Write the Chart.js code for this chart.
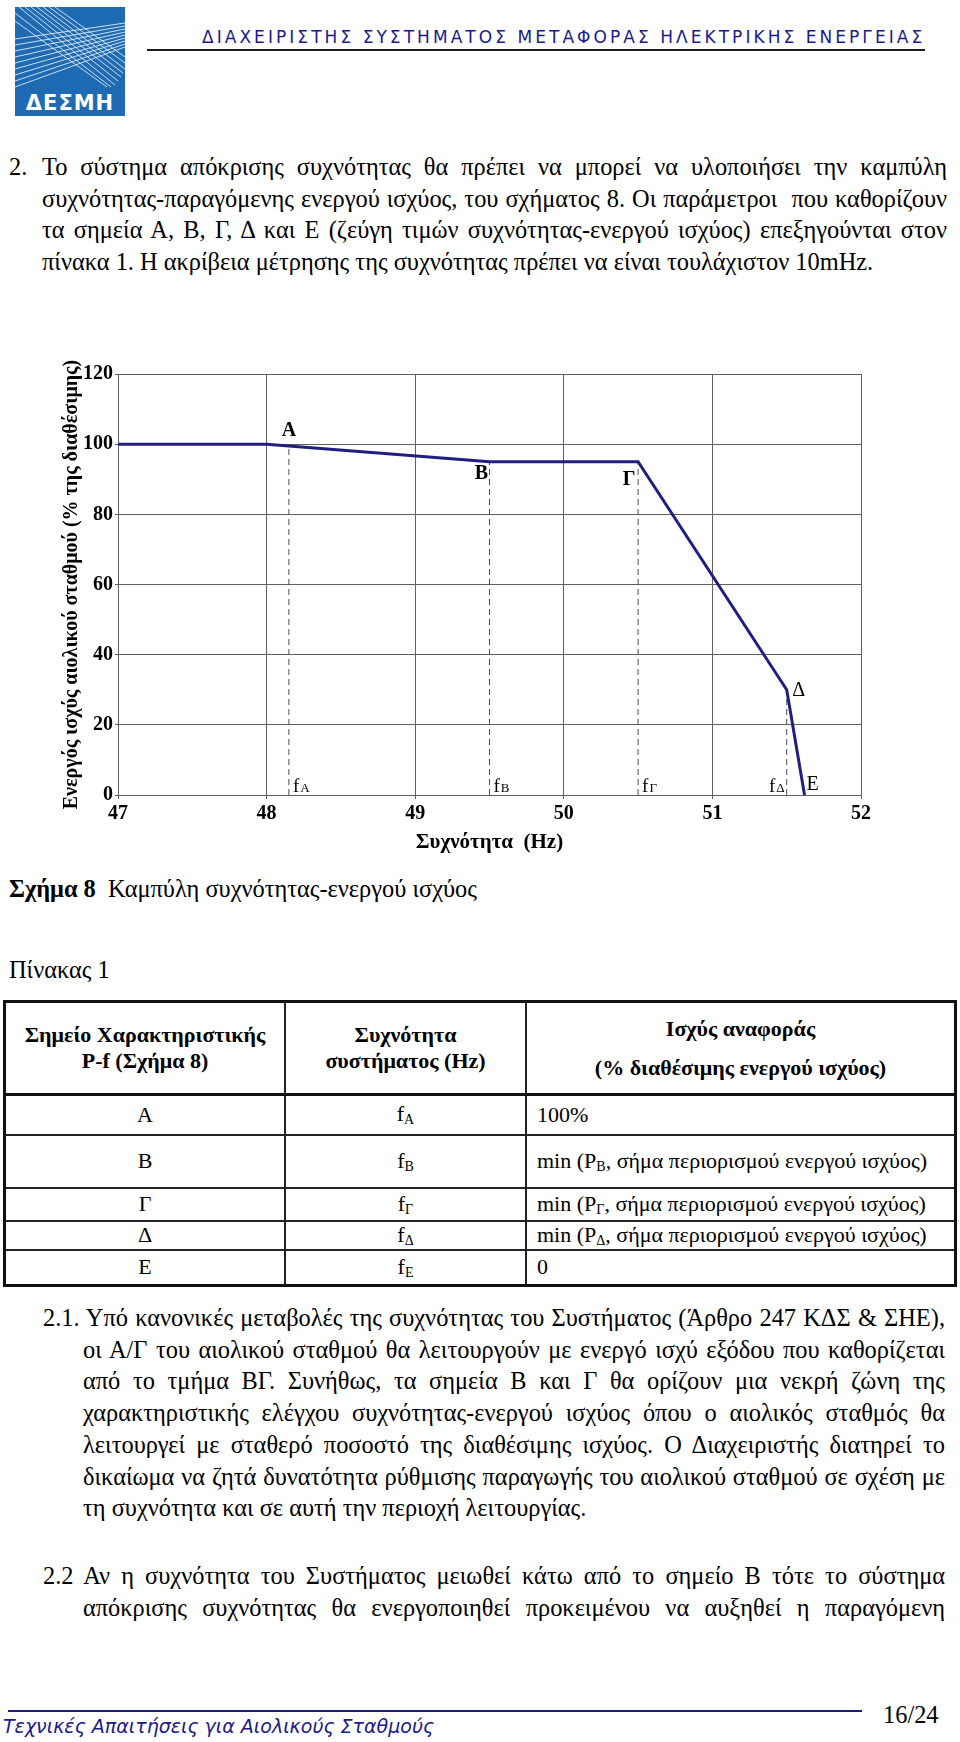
<!DOCTYPE html>
<html lang="el">
<head>
<meta charset="UTF-8">
<title>Καμπύλη συχνότητας-ενεργού ισχύος</title>
<script src="https://cdn.jsdelivr.net/npm/chart.js"></script>
<style>
    html, body {
        margin: 0;
        padding: 0;
        background: #fff;
    }
    body {
        width: 960px;
        height: 1742px;
        position: relative;
        overflow: hidden;
        font-family: "Liberation Serif", "Times New Roman", serif;
        font-size: 24.4px;
        color: #000;
    }
    .abs { position: absolute; }
    .header-title {
        left: 202px;
        top: 27px;
        font-family: "DejaVu Sans", Verdana, sans-serif;
        font-size: 17px;
        line-height: 20px;
        letter-spacing: 3.05px;
        color: #1a1a8c;
        white-space: nowrap;
    }
    .header-rule {
        left: 147px;
        top: 49px;
        width: 778px;
        height: 2px;
        background: #1c1c1c;
    }
    .para { line-height: 31.7px; }
    .para div { white-space: nowrap; }
    .para .j { text-align: justify; text-align-last: justify; }
    #chartCanvas { position: absolute; left: 0; top: 345px; }
    table.points {
        position: absolute;
        left: 3px;
        top: 1000px;
        width: 954px;
        border-collapse: collapse;
        border: 3px solid #111;
        font-size: 22px;
    }
    table.points td, table.points th {
        border: 2px solid #222;
        padding: 0 0 0 10px;
        vertical-align: middle;
        white-space: nowrap;
    }
    table.points th {
        font-weight: bold;
        text-align: center;
        line-height: 26px;
        padding: 0;
        border-bottom: 3px solid #111;
    }
    table.points td.c { text-align: center; padding: 0; }
    table.points sub { font-size: 14px; vertical-align: -3px; }
    .footer-rule {
        left: 8px;
        top: 1710px;
        width: 854px;
        height: 2px;
        background: #1a1a80;
    }
    .footer-text {
        left: 3px;
        top: 1715px;
        font-family: "DejaVu Sans", Verdana, sans-serif;
        font-style: italic;
        font-size: 19px;
        line-height: 22px;
        color: #1a1a8c;
        white-space: nowrap;
    }
</style>
</head>
<body>

<!-- logo -->
<svg class="abs" style="left:15px;top:7px" width="110" height="109" viewBox="0 0 110 109">
    <rect width="110" height="109" fill="#1f6bb3"/>
    <g stroke="#ffffff" stroke-width="0.9" opacity="0.85" fill="none">
        <line x1="4" y1="0" x2="100" y2="78"/>
        <line x1="10" y1="0" x2="103" y2="74"/>
        <line x1="16" y1="0" x2="106" y2="70"/>
        <line x1="22" y1="0" x2="108" y2="66"/>
        <line x1="28" y1="0" x2="110" y2="62"/>
        <line x1="34" y1="0" x2="110" y2="56"/>
        <line x1="40" y1="0" x2="110" y2="50"/>
        <line x1="0" y1="6" x2="96" y2="80"/>
        <line x1="0" y1="14" x2="92" y2="80"/>
        <line x1="0" y1="32" x2="110" y2="16"/>
        <line x1="0" y1="38" x2="110" y2="19"/>
        <line x1="0" y1="44" x2="110" y2="22"/>
        <line x1="0" y1="50" x2="110" y2="25"/>
        <line x1="0" y1="56" x2="110" y2="28"/>
        <line x1="0" y1="62" x2="110" y2="31"/>
        <line x1="0" y1="68" x2="110" y2="34"/>
        <line x1="0" y1="74" x2="110" y2="37"/>
        <line x1="0" y1="80" x2="110" y2="40"/>
    </g>
    <text x="55" y="103" text-anchor="middle" fill="#ffffff"
          font-family="DejaVu Sans, sans-serif" font-weight="bold" font-size="21" letter-spacing="1">ΔΕΣΜΗ</text>
</svg>

<div class="abs header-title">ΔΙΑΧΕΙΡΙΣΤΗΣ ΣΥΣΤΗΜΑΤΟΣ ΜΕΤΑΦΟΡΑΣ ΗΛΕΚΤΡΙΚΗΣ ΕΝΕΡΓΕΙΑΣ</div>
<div class="abs header-rule"></div>

<!-- paragraph 2 -->
<div class="abs para" style="left:9px;top:151px;">2.</div>
<div class="abs para" style="left:42px;top:151px;width:905px;">
    <div class="j">Το σύστημα απόκρισης συχνότητας θα πρέπει να μπορεί να υλοποιήσει την καμπύλη</div>
    <div class="j">συχνότητας-παραγόμενης ενεργού ισχύος, του σχήματος 8. Οι παράμετροι &nbsp;που καθορίζουν</div>
    <div class="j">τα σημεία Α, Β, Γ, Δ και Ε (ζεύγη τιμών συχνότητας-ενεργού ισχύος) επεξηγούνται στον</div>
    <div>πίνακα 1. Η ακρίβεια μέτρησης της συχνότητας πρέπει να είναι τουλάχιστον 10mHz.</div>
</div>

<canvas id="chartCanvas" width="960" height="511"></canvas>

<div class="abs para" style="left:9px;top:873px;"><b>Σχήμα 8</b>&nbsp; Καμπύλη συχνότητας-ενεργού ισχύος</div>
<div class="abs para" style="left:9px;top:954px;">Πίνακας 1</div>

<table class="points">
    <tr style="height:93px">
        <th style="width:278px">Σημείο Χαρακτηριστικής<br>P-f (Σχήμα 8)</th>
        <th style="width:239px">Συχνότητα<br>συστήματος (Hz)</th>
        <th style="line-height:39px">Ισχύς αναφοράς<br>(% διαθέσιμης ενεργού ισχύος)</th>
    </tr>
    <tr style="height:40px"><td class="c">Α</td><td class="c">f<sub>A</sub></td><td>100%</td></tr>
    <tr style="height:53px"><td class="c">Β</td><td class="c">f<sub>B</sub></td><td>min (P<sub>B</sub>, σήμα περιορισμού ενεργού ισχύος)</td></tr>
    <tr style="height:33px"><td class="c">Γ</td><td class="c">f<sub>Γ</sub></td><td>min (P<sub>Γ</sub>, σήμα περιορισμού ενεργού ισχύος)</td></tr>
    <tr style="height:28px"><td class="c">Δ</td><td class="c">f<sub>Δ</sub></td><td>min (P<sub>Δ</sub>, σήμα περιορισμού ενεργού ισχύος)</td></tr>
    <tr style="height:36px"><td class="c">Ε</td><td class="c">f<sub>E</sub></td><td>0</td></tr>
</table>

<!-- paragraph 2.1 -->
<div class="abs para" style="left:43px;top:1302px;width:902px;">
    <div class="j">2.1. Υπό κανονικές μεταβολές της συχνότητας του Συστήματος (Άρθρο 247 ΚΔΣ &amp; ΣΗΕ),</div>
</div>
<div class="abs para" style="left:83px;top:1333.7px;width:862px;">
    <div class="j">οι Α/Γ του αιολικού σταθμού θα λειτουργούν με ενεργό ισχύ εξόδου που καθορίζεται</div>
    <div class="j">από το τμήμα ΒΓ. Συνήθως, τα σημεία Β και Γ θα ορίζουν μια νεκρή ζώνη της</div>
    <div class="j">χαρακτηριστικής ελέγχου συχνότητας-ενεργού ισχύος όπου ο αιολικός σταθμός θα</div>
    <div class="j">λειτουργεί με σταθερό ποσοστό της διαθέσιμης ισχύος. Ο Διαχειριστής διατηρεί το</div>
    <div class="j">δικαίωμα να ζητά δυνατότητα ρύθμισης παραγωγής του αιολικού σταθμού σε σχέση με</div>
    <div>τη συχνότητα και σε αυτή την περιοχή λειτουργίας.</div>
</div>

<!-- paragraph 2.2 -->
<div class="abs para" style="left:43px;top:1560px;width:902px;">
    <div class="j">2.2 Αν η συχνότητα του Συστήματος μειωθεί κάτω από το σημείο Β τότε το σύστημα</div>
</div>
<div class="abs para" style="left:83px;top:1591.7px;width:862px;">
    <div class="j">απόκρισης συχνότητας θα ενεργοποιηθεί προκειμένου να αυξηθεί η παραγόμενη</div>
</div>

<div class="abs footer-rule"></div>
<div class="abs para" style="left:883px;top:1699px;">16/24</div>
<div class="abs footer-text">Τεχνικές Απαιτήσεις για Αιολικούς Σταθμούς</div>

<script>
    // P-f curve (frequency in Hz, power in % of available)
    const curveFreq = [47, 48, 48.15, 49.5, 50.5, 51.5, 51.62];
    const curvePower = [100, 100, 99.5, 95, 95, 30, 0];

    // characteristic points with dashed drop lines
    const markNames = ['A', 'B', 'Γ', 'Δ'];
    const markFreq = [48.15, 49.5, 50.5, 51.5];
    const markPower = [99.5, 95, 95, 30];

    const endName = 'E';
    const endFreq = 51.62;
    const endPower = 0;

    const xTicks = [47, 48, 49, 50, 51, 52];
    const yTicks = [0, 20, 40, 60, 80, 100, 120];

    const gridColor = '#606060';
    const serif = '"Liberation Serif", "Times New Roman", serif';

    // squeeze any justified line that would overflow its box
    document.querySelectorAll('.para .j').forEach(el => {
        let ls = 0;
        while (el.scrollWidth > el.clientWidth && ls > -1) {
            ls -= 0.05;
            el.style.letterSpacing = ls + 'px';
        }
    });

    const curveData = curveFreq.map((f, i) => ({ x: f, y: curvePower[i] }));

    const dropSets = markFreq.map((f, i) => ({
        data: [{ x: f, y: 0 }, { x: f, y: markPower[i] }],
        showLine: true,
        borderColor: '#4a4a60',
        borderWidth: 1,
        borderDash: [6, 4],
        pointRadius: 0,
        order: 2
    }));

    // letter labels next to each point and f-subscript labels on the x axis
    const pointLabels = {
        id: 'pointLabels',
        afterDatasetsDraw(chart) {
            const { ctx, scales: { x, y } } = chart;
            const off = {
                'A': [0, -15, true], 'B': [-8, 12, true], 'Γ': [-9, 18, true],
                'Δ': [12, 1, false], 'E': [8, -10, false]
            };
            ctx.save();
            ctx.fillStyle = '#000';
            ctx.textAlign = 'center';
            ctx.textBaseline = 'middle';
            const names = markNames.concat([endName]);
            const fs = markFreq.concat([endFreq]);
            const ps = markPower.concat([endPower]);
            names.forEach((n, i) => {
                const o = off[n];
                ctx.font = (o[2] ? 'bold ' : '') + '20px ' + serif;
                ctx.fillText(n, x.getPixelForValue(fs[i]) + o[0], y.getPixelForValue(ps[i]) + o[1]);
            });

            // f_A ... f_Δ
            ctx.textBaseline = 'alphabetic';
            ctx.textAlign = 'left';
            const base = y.getPixelForValue(0) - 3;
            markNames.forEach((n, i) => {
                ctx.font = '19px ' + serif;
                const fw = ctx.measureText('f').width;
                ctx.font = '13px ' + serif;
                const sw = ctx.measureText(n).width;
                const px = x.getPixelForValue(markFreq[i]);
                const left = i === markNames.length - 1 ? px - 2 - fw - sw - 1 : px + 4;
                ctx.font = '19px ' + serif;
                ctx.fillText('f', left, base);
                ctx.font = '13px ' + serif;
                ctx.fillText(n, left + fw + 1, base);
            });
            ctx.restore();
        }
    };

    const chart = new Chart(document.getElementById('chartCanvas'), {
        type: 'scatter',
        data: {
            datasets: [{
                data: curveData,
                showLine: true,
                borderColor: '#1f1f80',
                borderWidth: 3,
                pointRadius: 0,
                order: 1
            }].concat(dropSets)
        },
        options: {
            responsive: false,
            animation: false,
            events: [],
            layout: { padding: { left: 60, right: 99, top: 29, bottom: 0 } },
            plugins: {
                legend: { display: false },
                tooltip: { enabled: false }
            },
            scales: {
                x: {
                    type: 'linear',
                    min: 47,
                    max: 52,
                    afterFit: s => { s.height = 61; },
                    afterBuildTicks: s => { s.ticks = xTicks.map(v => ({ value: v })); },
                    grid: { color: gridColor, lineWidth: 1, tickLength: 4 },
                    border: { color: gridColor, width: 1 },
                    ticks: {
                        padding: 3,
                        color: '#000',
                        font: { family: serif, size: 20, weight: 'bold' }
                    },
                    title: {
                        display: true,
                        text: 'Συχνότητα  (Hz)',
                        color: '#000',
                        padding: { top: 0, bottom: 1 },
                        font: { family: serif, size: 21, weight: 'bold' }
                    }
                },
                y: {
                    min: 0,
                    max: 120,
                    afterFit: s => { s.width = 58; },
                    afterBuildTicks: s => { s.ticks = yTicks.map(v => ({ value: v })); },
                    grid: { color: gridColor, lineWidth: 1, tickLength: 3 },
                    border: { color: gridColor, width: 1 },
                    ticks: {
                        padding: 2,
                        color: '#000',
                        font: { family: serif, size: 20, weight: 'bold' }
                    },
                    title: {
                        display: true,
                        text: 'Ενεργός ισχύς αιολικού σταθμού (% της διαθέσιμης)',
                        color: '#000',
                        padding: 0,
                        font: { family: serif, size: 20, weight: 'bold' }
                    }
                }
            }
        },
        plugins: [pointLabels]
    });
</script>
</body>
</html>
